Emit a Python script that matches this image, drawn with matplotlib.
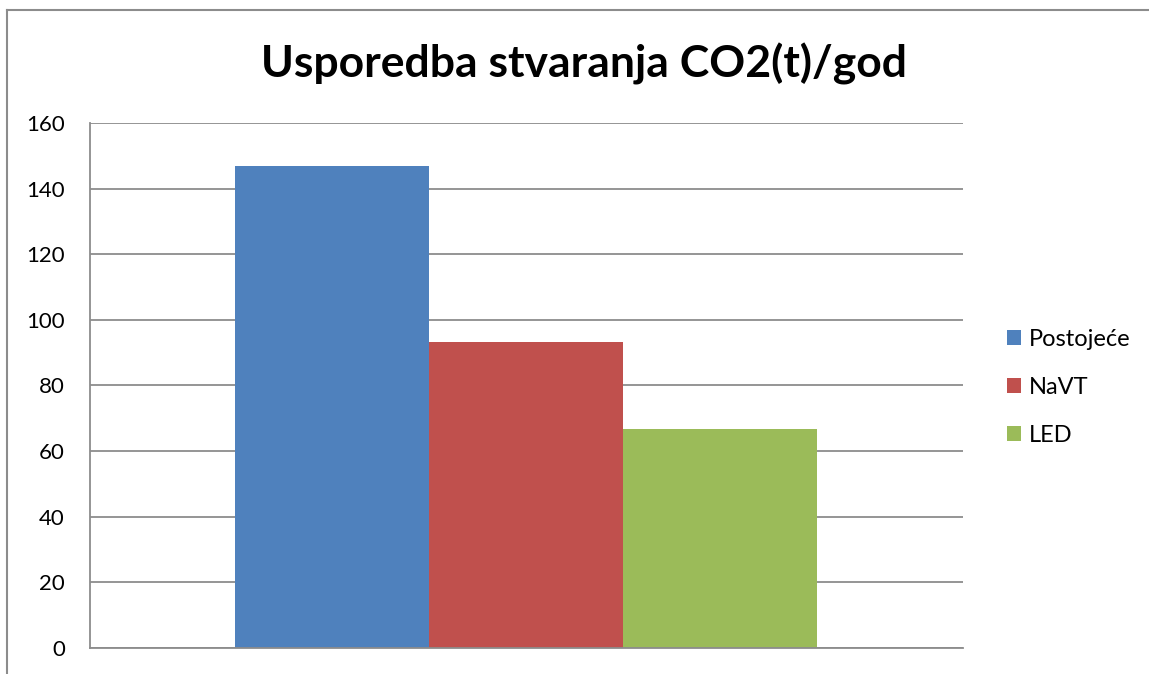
import matplotlib.pyplot as plt
from matplotlib.patches import Patch
from matplotlib.lines import Line2D

series = ['Postojeće', 'NaVT', 'LED']
values = [146.8, 93.2, 66.7]
colors = ['#4f81bd', '#c0504d', '#9bbb59']
yticks = [0, 20, 40, 60, 80, 100, 120, 140, 160]

plt.rcParams['font.family'] = ['Lato', 'DejaVu Sans']

fig = plt.figure(figsize=(11.49, 6.74), dpi=100)
ax = fig.add_axes([0.0783, 0.0386, 0.7597, 0.7789])

w = 0.2222
for i, (s, v) in enumerate(zip(series, values)):
    ax.bar((i - 1) * w, v, width=w, color=colors[i], label=s, zorder=2)

ax.set_xlim(-0.5, 0.5)
ax.set_ylim(0, 160)
ax.set_yticks(yticks)
ax.set_xticks([])
ax.tick_params(axis='y', length=0, labelsize=16, pad=18)
ax.grid(axis='y', color='#8c8c8c', linewidth=1.3, zorder=0)
for sp in ['top', 'right']:
    ax.spines[sp].set_visible(False)
for sp in ['left', 'bottom']:
    ax.spines[sp].set_color('#8c8c8c')
    ax.spines[sp].set_linewidth(1.3)

fig.text(0.508, 0.905, 'Usporedba stvaranja CO2(t)/god', ha='center', va='center',
         fontsize=32, fontweight='bold')

handles = [Patch(facecolor=c, edgecolor='none') for c in colors]
fig.legend(handles, series, loc='center left', bbox_to_anchor=(0.866, 0.425),
           frameon=False, fontsize=17, handlelength=0.6, handleheight=0.6,
           handletextpad=0.35, labelspacing=1.15, borderpad=0)

# outer chart border (left and top visible)
fig.add_artist(Line2D([0.0061, 0.0061], [0, 0.985], color='#8c8c8c', lw=1.5))
fig.add_artist(Line2D([0.0061, 1.0], [0.985, 0.985], color='#8c8c8c', lw=1.5))

fig.savefig('out.png', dpi=100)
